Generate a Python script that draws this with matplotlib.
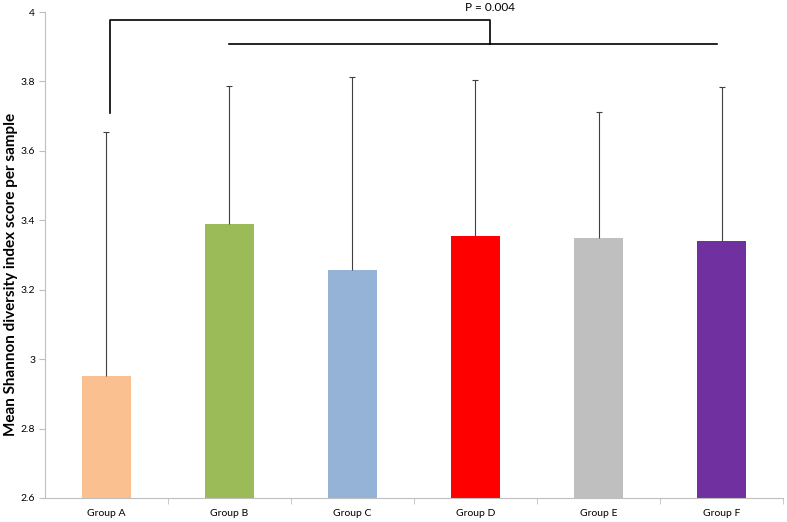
import matplotlib.pyplot as plt
import numpy as np
from matplotlib.ticker import FuncFormatter, FixedLocator

groups = ['Group A', 'Group B', 'Group C', 'Group D', 'Group E', 'Group F']
means = [2.95, 3.39, 3.257, 3.355, 3.35, 3.34]
errors = [0.704, 0.397, 0.556, 0.45, 0.363, 0.445]
colors = ['#FAC090', '#9BBB59', '#95B3D7', '#FF0000', '#BFBFBF', '#7030A0']
p_text = 'P = 0.004'

plt.rcParams['font.family'] = ['Lato', 'DejaVu Sans']

fig = plt.figure(figsize=(7.87, 5.22), dpi=100)
ax = fig.add_axes([0.057, 0.046, 0.938, 0.931])

x = np.arange(len(groups))
ax.bar(x, np.array(means) - 2.6, bottom=2.6, width=0.4, color=colors, zorder=2)
eb = ax.errorbar(x, means, yerr=[np.zeros(len(errors)), errors], fmt='none',
                 ecolor='#404040', elinewidth=0.8, capsize=2.5, capthick=0.8, zorder=3)
# only upper whiskers, hide the cap sitting on top of the bar
eb[1][0].set_visible(False)

# significance bracket
ax.plot([0.03, 0.03, 3.12, 3.12], [3.71, 3.978, 3.978, 3.909], color='black', lw=1.2, clip_on=False)
ax.plot([1.0, 4.96], [3.909, 3.909], color='black', lw=1.2, clip_on=False)
ax.text(3.12, 4.014, p_text, ha='center', va='center', fontsize=8.5, clip_on=False)

ax.set_xlim(-0.5, 5.5)
ax.set_ylim(2.6, 4.0)
ax.set_yticks(np.arange(2.6, 4.01, 0.2))
ax.yaxis.set_major_formatter(FuncFormatter(lambda v, p: '%g' % round(v, 1)))
ax.set_xticks(x)
ax.set_xticklabels(groups)
ax.xaxis.set_minor_locator(FixedLocator(np.arange(0.5, 5.6, 1.0)))
ax.tick_params(axis='x', which='major', length=0, labelsize=7.5, pad=8)
ax.tick_params(axis='x', which='minor', length=4, color='#BFBFBF')
ax.tick_params(axis='y', length=4, color='#BFBFBF', labelsize=7.5, pad=3)

for s in ['top', 'right']:
    ax.spines[s].set_visible(False)
for s in ['left', 'bottom']:
    ax.spines[s].set_color('#BFBFBF')

ax.set_ylabel('Mean Shannon diversity index score per sample', fontsize=11, fontweight='bold')
ax.yaxis.set_label_coords(-0.036, 0.459)

fig.savefig('out.png', dpi=100)
